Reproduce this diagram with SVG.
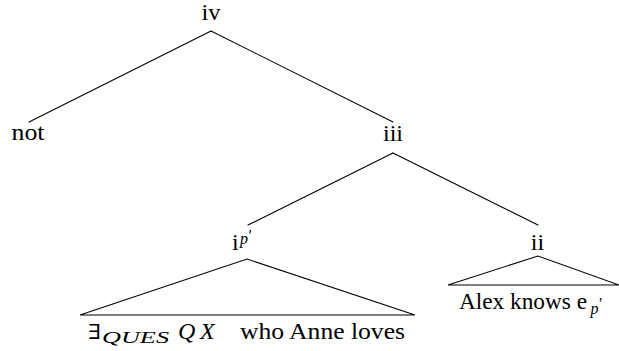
<svg xmlns="http://www.w3.org/2000/svg" width="619" height="351" viewBox="0 0 619 351">
<style>
text{font-family:"Liberation Serif","Times New Roman",serif;font-size:24px;fill:#000}
.m{text-anchor:middle}
.i{font-style:italic}
.s{font-size:16px}
.x{font-family:"DejaVu Serif",serif;font-size:21px}
.e{stroke:#000;stroke-width:1.1;fill:none;stroke-linecap:round}
</style>
<rect width="619" height="351" fill="#fff"/>
<g id="connectors">
<line class="e" x1="211" y1="31" x2="29" y2="122"/>
<line class="e" x1="211" y1="31" x2="393" y2="122"/>
<line class="e" x1="393" y1="153" x2="248" y2="225"/>
<line class="e" x1="393" y1="153" x2="538" y2="225"/>
<path class="e" d="M80,315 L247,259 L415,315 Z"/>
<path class="e" d="M448,285 L538,256 L619,285 Z"/>
</g>
<g id="iv"><text class="m" x="211" y="20" textLength="19" lengthAdjust="spacingAndGlyphs">iv</text></g>
<g id="not"><text class="m" x="28" y="140" textLength="33" lengthAdjust="spacingAndGlyphs">not</text></g>
<g id="iii"><text class="m" x="393" y="141">iii</text></g>
<g id="i"><text x="232" y="250">i</text><text class="i s" x="240" y="244">p</text><text class="s" x="248.5" y="241">′</text></g>
<g id="ii"><text class="m" x="537.5" y="250">ii</text></g>
<g id="leaf-i">
<text class="x" x="88" y="339" textLength="13" lengthAdjust="spacingAndGlyphs">∃</text>
<text class="i s" x="102" y="343" textLength="67" lengthAdjust="spacingAndGlyphs">QUES</text>
<text class="i" x="178" y="339">Q</text>
<text class="i" x="200" y="339">X</text>
<text x="240" y="339" textLength="165" lengthAdjust="spacingAndGlyphs">who Anne loves</text>
</g>
<g id="leaf-ii">
<text x="459" y="309" textLength="128" lengthAdjust="spacingAndGlyphs">Alex knows e</text>
<text class="i s" x="590.5" y="314">p</text>
<text class="s" x="599" y="309">′</text>
</g>
</svg>
